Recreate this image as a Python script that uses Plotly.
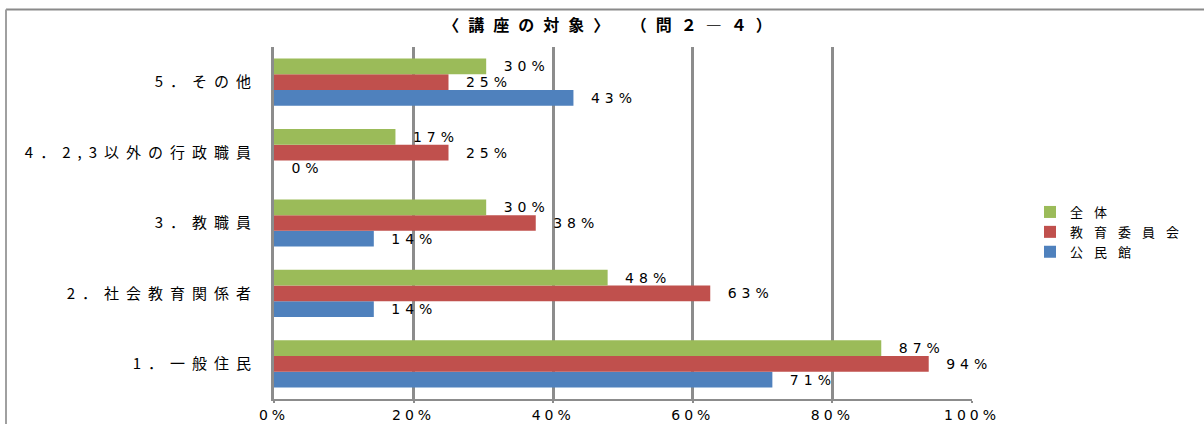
import plotly.graph_objects as go

# ---- data ----
categories = ["1．一般住民", "2．社会教育関係者", "3．教職員", "4．2,3以外の行政職員", "5．その他"]
series_names = ["公民館", "教育委員会", "全体"]
kominkan = [71.4, 14.3, 14.3, 0.0, 42.9]
kyoiku_iinkai = [93.8, 62.5, 37.5, 25.0, 25.0]
zentai = [87.0, 47.8, 30.4, 17.4, 30.4]
x_tick_values = [0, 20, 40, 60, 80, 100]
x_tick_labels = ["0%", "20%", "40%", "60%", "80%", "100%"]
title_text = "〈講座の対象〉 （問２―４）"

colors = ["#4F81BD", "#C0504D", "#9BBB59"]
series_values = [kominkan, kyoiku_iinkai, zentai]

CJK = "Noto Sans CJK JP"
NUM = "DejaVu Sans, Noto Sans CJK JP"
GRID = "#8C8C8C"


def spaced(s, px):
    return f'<span style="letter-spacing:{px}px">{s}</span>'


fig = go.Figure()
for name, vals, col in zip(series_names, series_values, colors):
    fig.add_trace(go.Bar(
        y=categories, x=vals, orientation="h", name=spaced(name, 11),
        marker=dict(color=col, line=dict(width=0)),
        texttemplate=spaced(" ", 10) + spaced("%{x:.0f}%", 5),
        textposition="outside", constraintext="none", cliponaxis=False,
        textfont=dict(family=NUM, size=14, color="#000000"),
        hoverinfo="skip",
    ))

W, H = 1204, 424
L, R, T, B = 274, 232, 47, 25
pw, ph = W - L - R, H - T - B

fig.update_layout(
    width=W, height=H,
    margin=dict(l=L, r=R, t=T, b=B, autoexpand=False),
    paper_bgcolor="white", plot_bgcolor="white",
    barmode="group", bargap=0.33, bargroupgap=0,
    showlegend=True,
    title=dict(text=spaced(title_text, 9), x=612 / W, xanchor="center",
               y=1 - 25 / H, yanchor="middle", yref="container",
               font=dict(family=CJK, size=16, color="#000000", weight="bold")),
    legend=dict(x=(1030 - L) / pw, xanchor="left", y=(H - B - 232) / ph,
                yanchor="middle", traceorder="reversed",
                font=dict(family=CJK, size=13, color="#000000"),
                bgcolor="rgba(0,0,0,0)", itemwidth=30),
    xaxis=dict(range=[0, 100], tickvals=x_tick_values,
               ticktext=[spaced(t, 4) for t in x_tick_labels],
               showgrid=True, gridcolor=GRID, gridwidth=3,
               showline=True, linecolor=GRID, linewidth=2,
               ticks="outside", ticklen=2, tickcolor=GRID, tickwidth=2,
               tickfont=dict(family=NUM, size=14, color="#000000"),
               zeroline=False, fixedrange=True),
    yaxis=dict(type="category", categoryorder="array", categoryarray=categories,
               tickvals=categories, ticktext=[spaced(c, 7) for c in categories],
               showgrid=False, showline=True, linecolor=GRID, linewidth=3,
               ticks="", ticklabelstandoff=10,
               tickfont=dict(family=CJK, size=15, color="#000000"),
               fixedrange=True),
    shapes=[
        dict(type="line", xref="paper", yref="paper",
             x0=(6 - L) / pw, x1=(W + 10 - L) / pw,
             y0=(H - B - 9.5) / ph, y1=(H - B - 9.5) / ph,
             line=dict(color="#8A8A8A", width=2)),
        dict(type="line", xref="paper", yref="paper",
             x0=(6 - L) / pw, x1=(6 - L) / pw,
             y0=(H - B - 9.5) / ph, y1=(H - B - H - 10) / ph,
             line=dict(color="#A0A0A0", width=2)),
    ],
)

fig.write_html("out.html")
